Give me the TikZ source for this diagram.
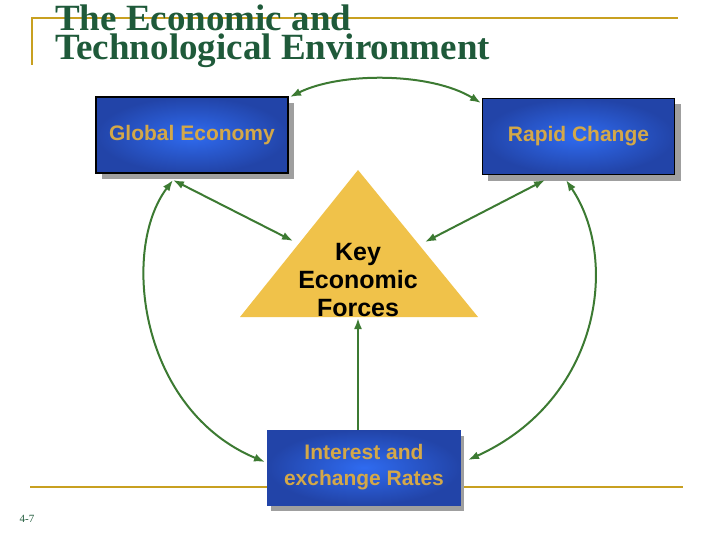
\documentclass[tikz,border=0pt]{standalone}
\usepackage{fontspec}
\setmainfont{Liberation Serif}
\setsansfont{Liberation Sans}
\usetikzlibrary{shapes.geometric,arrows.meta}
\definecolor{gold}{HTML}{D4A848}
\definecolor{rule}{HTML}{C8A020}
\definecolor{ttl}{HTML}{1F5A3A}
\definecolor{arr}{HTML}{3C7A32}
\definecolor{bluein}{HTML}{2F6BF0}
\definecolor{blueout}{HTML}{2244A8}
\definecolor{tri}{HTML}{F0C24A}
\tikzset{
  bbox/.style={rectangle, minimum width=192pt, minimum height=76pt, inner color=bluein, outer color=blueout, draw=black, line width=1.2pt, text=gold, font=\sffamily\bfseries\fontsize{21}{26}\selectfont, align=center},
  shad/.style={fill=gray!75, draw=none},
  con/.style={draw=arr, line width=2pt, -{Latex[length=11pt,width=8pt]}},
  con2/.style={draw=arr, line width=2pt, {Latex[length=11pt,width=8pt]}-{Latex[length=11pt,width=8pt]}}
}
\begin{document}
\begin{tikzpicture}[x=1pt,y=-1pt]
\useasboundingbox (0,0) rectangle (720,540);
% rules
\draw[rule, line width=1.5pt] (32,65) -- (32,18) -- (678,18);
\draw[rule, line width=1.5pt] (30,487) -- (683,487);
\node[anchor=west, text=ttl, font=\bfseries\fontsize{37}{37}\selectfont, inner sep=0] (t1) at (55,18) {The Economic and};
\node[anchor=west, text=ttl, font=\bfseries\fontsize{37}{37}\selectfont, inner sep=0] (t2) at (55,51) {Technological Environment};
\node[font=\fontsize{11}{11}\selectfont, text=ttl] (pg) at (27,519) {4-7};
% shadows
\fill[shad] (102,103) rectangle (294,179);
\fill[shad] (488,104) rectangle (681,181);
\fill[shad] (271,436) rectangle (464,511);
% boxes
\node[bbox] (ge) at (192,135) {Global Economy};
\node[bbox] (rc) at (578.5,136.5) {Rapid Change};
\node[bbox, draw=blueout, line width=0.8pt, minimum width=193pt, minimum height=75pt] (ir) at (364,467.5) {Interest and\\exchange Rates};
% triangle
\fill[tri] (358,170) -- (478,317) -- (240,317) -- cycle;
\coordinate (tl) at (293,241);
\coordinate (tr) at (425,242);
\coordinate (tb) at (358,318);
\node[font=\sffamily\bfseries\fontsize{25}{28}\selectfont, align=center] (kf) at (358,280) {Key\\Economic\\Forces};
% connectors
\draw[con2] (290,97) .. controls (340,72) and (430,72) .. (481,103);
\draw[con2] (173,180) -- (tl);
\draw[con2] (545,180) -- (tr);
\draw[con] (358,430) -- (tb);
\draw[con2] (173,180) .. controls (120,250) and (140,410) .. (265,462);
\draw[con2] (566,180) .. controls (620,260) and (600,400) .. (468,460);
\end{tikzpicture}
\end{document}
